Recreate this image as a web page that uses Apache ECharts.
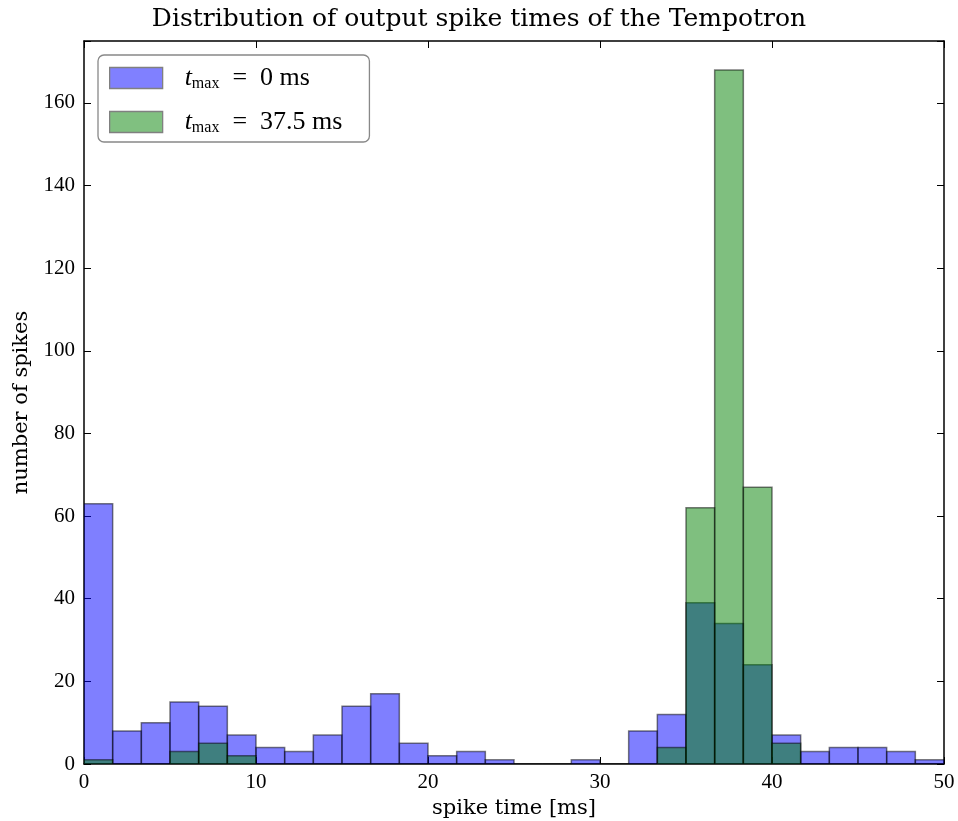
<!DOCTYPE html>
<html><head><meta charset="utf-8">
<script src="https://cdn.jsdelivr.net/npm/echarts@6/dist/echarts.min.js"></script>
<style>html,body{margin:0;padding:0;background:#fff}#c{width:958px;height:821px}</style>
</head><body><div id="c"></div>
<script>
// Histogram: 30 bins over 0..50 ms
const binCount = 30;
const xMin = 0, xMax = 50;
const countsT0 = [63, 8, 10, 15, 14, 7, 4, 3, 7, 14, 17, 5, 2, 3, 1, 0, 0, 1, 0, 8, 12, 39, 34, 24, 7, 3, 4, 4, 3, 1];
const countsT375 = [1, 0, 0, 3, 5, 2, 0, 0, 0, 0, 0, 0, 0, 0, 0, 0, 0, 0, 0, 0, 4, 62, 168, 67, 5, 0, 0, 0, 0, 0];
const xTicks = [0, 10, 20, 30, 40, 50];
const yTicks = [0, 20, 40, 60, 80, 100, 120, 140, 160];
const seriesNames = ['t0', 't375'];

const binW = (xMax - xMin) / binCount;
function toData(counts){ return counts.map((c,i)=>[xMin+i*binW, xMin+(i+1)*binW, c]); }
const FONT = 'DejaVu Serif';
const NFONT = 'Liberation Serif';
function rend(fill){
  return function(params, api){
    const x0 = api.value(0), x1 = api.value(1), v = api.value(2);
    const p0 = api.coord([x0, v]), p1 = api.coord([x1, 0]);
    return {type:'rect', shape:{x:p0[0], y:p0[1], width:p1[0]-p0[0], height:p1[1]-p0[1]},
      style:{fill:fill, stroke:'rgba(0,0,0,0.5)', lineWidth:1.5}};
  };
}
const rich = {
  t:{fontFamily:NFONT, fontStyle:'italic', fontSize:26, color:'#000'},
  s:{fontFamily:NFONT, fontSize:16, color:'#000', padding:[12,0,0,0]},
  n:{fontFamily:NFONT, fontSize:26, color:'#000'}
};
const chart = echarts.init(document.getElementById('c'));
const axisLine = {show:true, onZero:false, lineStyle:{color:'#000', width:1.5}};
const tick = {show:true, inside:true, length:7, lineStyle:{color:'#000', width:1}};
const lbl = {fontFamily:NFONT, fontSize:21, color:'#000'};
chart.setOption({
  animation:false,
  title:{text:'Distribution of output spike times of the Tempotron', left:'center', top:2,
    textStyle:{fontFamily:FONT, fontWeight:'normal', fontSize:25, color:'#000'}},
  legend:{left:98, top:55, orient:'vertical', icon:'rect', itemWidth:53, itemHeight:21, itemGap:17,
    padding:[10,27,6,11], borderColor:'#888', borderWidth:1.3, borderRadius:6, backgroundColor:'#fff',
    data:[{name:seriesNames[0], itemStyle:{color:'#8080ff', borderColor:'#808080', borderWidth:1.3}},
          {name:seriesNames[1], itemStyle:{color:'#80c080', borderColor:'#808080', borderWidth:1.3}}],
    formatter:function(n){ return n==='t0' ? '{t|t}{s|max}{n|  =  0 ms}' : '{t|t}{s|max}{n|  =  37.5 ms}'; },
    textStyle:{rich:rich, padding:[0,0,0,17]}
  },
  grid:{left:84, right:14, top:41, bottom:57, outerBoundsMode:'none', containLabel:false},
  xAxis:[{type:'value', min:xMin, max:xMax, interval:10, position:'bottom',
      name:'spike time [ms]', nameLocation:'middle', nameGap:32,
      nameTextStyle:{fontFamily:FONT, fontSize:21, color:'#000'},
      axisLine:axisLine, axisTick:tick, splitLine:{show:false},
      axisLabel:{...lbl, margin:8, customValues:xTicks}},
    {type:'value', min:xMin, max:xMax, interval:10, position:'top',
      axisLine:axisLine, axisTick:tick, axisLabel:{show:false}, splitLine:{show:false}}],
  yAxis:[{type:'value', min:0, max:175, interval:20, position:'left',
      name:'number of spikes', nameLocation:'middle', nameGap:52,
      nameTextStyle:{fontFamily:FONT, fontSize:21, color:'#000'},
      axisLine:axisLine, axisTick:tick, splitLine:{show:false},
      axisLabel:{...lbl, margin:9, customValues:yTicks}},
    {type:'value', min:0, max:175, interval:20, position:'right',
      axisLine:axisLine, axisTick:tick, axisLabel:{show:false}, splitLine:{show:false}}],
  series:[
    {name:seriesNames[0], type:'custom', renderItem:rend('rgba(0,0,255,0.5)'), itemStyle:{color:'#8080ff'},
      encode:{x:[0,1], y:2}, data:toData(countsT0), clip:true},
    {name:seriesNames[1], type:'custom', renderItem:rend('rgba(0,128,0,0.5)'), itemStyle:{color:'#80c080'},
      encode:{x:[0,1], y:2}, data:toData(countsT375), clip:true}
  ]
});
</script></body></html>
